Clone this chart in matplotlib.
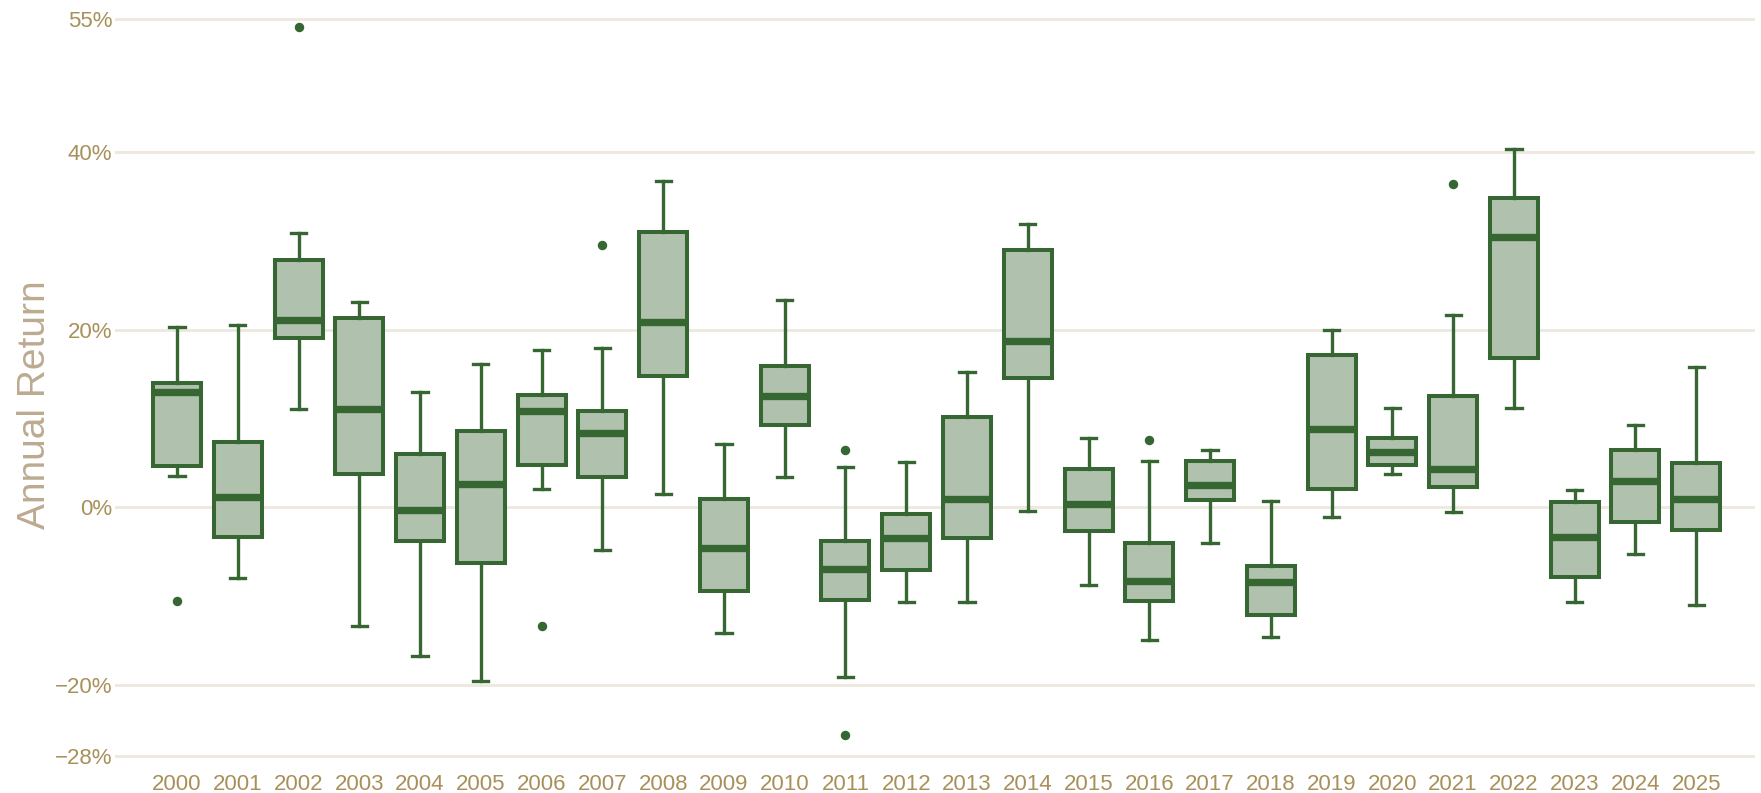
import matplotlib

matplotlib.use("Agg")
import matplotlib.pyplot as plt
import numpy as np

# box stats per year, in %
years = [str(y) for y in range(2000, 2026)]
whislo = [3.5, -8.0, 11.1, -13.4, -16.7, -19.5, 2.1, -4.8, 1.5, -14.1, 3.4, -19.1, -10.6,
          -10.7, -0.4, -8.7, -14.9, -4.05, -14.6, -1.05, 3.8, -0.55, 11.2, -10.65, -5.3, -11.0]
q1 = [4.7, -3.3, 19.1, 3.75, -3.75, -6.3, 4.8, 3.45, 14.8, -9.4, 9.3, -10.4, -7.1,
      -3.4, 14.6, -2.7, -10.5, 0.8, -12.1, 2.1, 4.8, 2.25, 16.8, -7.8, -1.6, -2.55]
med = [13.0, 1.2, 21.1, 11.1, -0.3, 2.6, 10.9, 8.35, 20.9, -4.6, 12.5, -6.9, -3.4,
       1.0, 18.7, 0.4, -8.3, 2.5, -8.4, 8.8, 6.2, 4.3, 30.4, -3.3, 3.0, 1.0]
q3 = [14.0, 7.4, 27.9, 21.3, 6.0, 8.6, 12.7, 10.8, 31.0, 1.0, 15.9, -3.8, -0.8,
      10.2, 29.0, 4.3, -4.0, 5.25, -6.6, 17.2, 7.8, 12.5, 34.8, 0.65, 6.45, 5.0]
whishi = [20.3, 20.5, 30.9, 23.1, 13.0, 16.1, 17.7, 17.9, 36.7, 7.1, 23.3, 4.5, 5.1,
          15.2, 31.9, 7.8, 5.2, 6.45, 0.7, 20.0, 11.2, 21.7, 40.4, 1.95, 9.3, 15.8]
outliers = {"2000": [-10.5], "2002": [54.1], "2006": [-13.4], "2007": [29.5],
            "2011": [6.5, -25.6], "2016": [7.6], "2021": [36.4]}
yticks = [-28, -20, 0, 20, 40, 55]

GREEN = "#366732"
FILL = "#b0c2ad"
GOLD = "#a8905a"
TAN = "#bcab90"
GRID = "#eee8de"

stats = []
for i, y in enumerate(years):
    stats.append(dict(label=y, whislo=whislo[i], q1=q1[i], med=med[i], q3=q3[i],
                      whishi=whishi[i], fliers=outliers.get(y, [])))

fig = plt.figure(figsize=(17.61, 7.93), dpi=100)
ax = fig.add_axes([0.0653, 0.0421, 0.9314, 0.9385])

ax.bxp(stats, positions=np.arange(len(years)), widths=0.79, patch_artist=True,
       showfliers=True,
       boxprops=dict(facecolor=FILL, edgecolor=GREEN, linewidth=2.9),
       medianprops=dict(color=GREEN, linewidth=5.3, solid_capstyle="butt"),
       whiskerprops=dict(color=GREEN, linewidth=2.4),
       capprops=dict(color=GREEN, linewidth=2.4),
       capwidths=0.25,
       flierprops=dict(marker="o", markersize=5.8, markerfacecolor=GREEN,
                       markeredgecolor=GREEN))

ax.set_xlim(-1.02, 25.97)
ax.set_ylim(-28.4, 55.4)
ax.set_yticks(yticks)
ax.set_yticklabels([f"{v}%".replace("-", "\u2212") for v in yticks])
ax.set_xticks(np.arange(len(years)))
ax.set_xticklabels(years)
for s in ax.spines.values():
    s.set_visible(False)
ax.tick_params(axis="both", length=0, labelcolor=GOLD, labelsize=16)
ax.tick_params(axis="y", pad=2)
ax.tick_params(axis="x", pad=10)
for lab in ax.get_xticklabels() + ax.get_yticklabels():
    lab.set_fontfamily("Liberation Sans")
ax.yaxis.grid(True, color=GRID, linewidth=2)
ax.set_axisbelow(True)

fig.text(0.02, 0.49, "Annual Return", rotation=90, va="center", ha="center",
         fontsize=28, color=TAN, family="Liberation Sans")

fig.savefig("out.png", dpi=100)
plt.close(fig)
